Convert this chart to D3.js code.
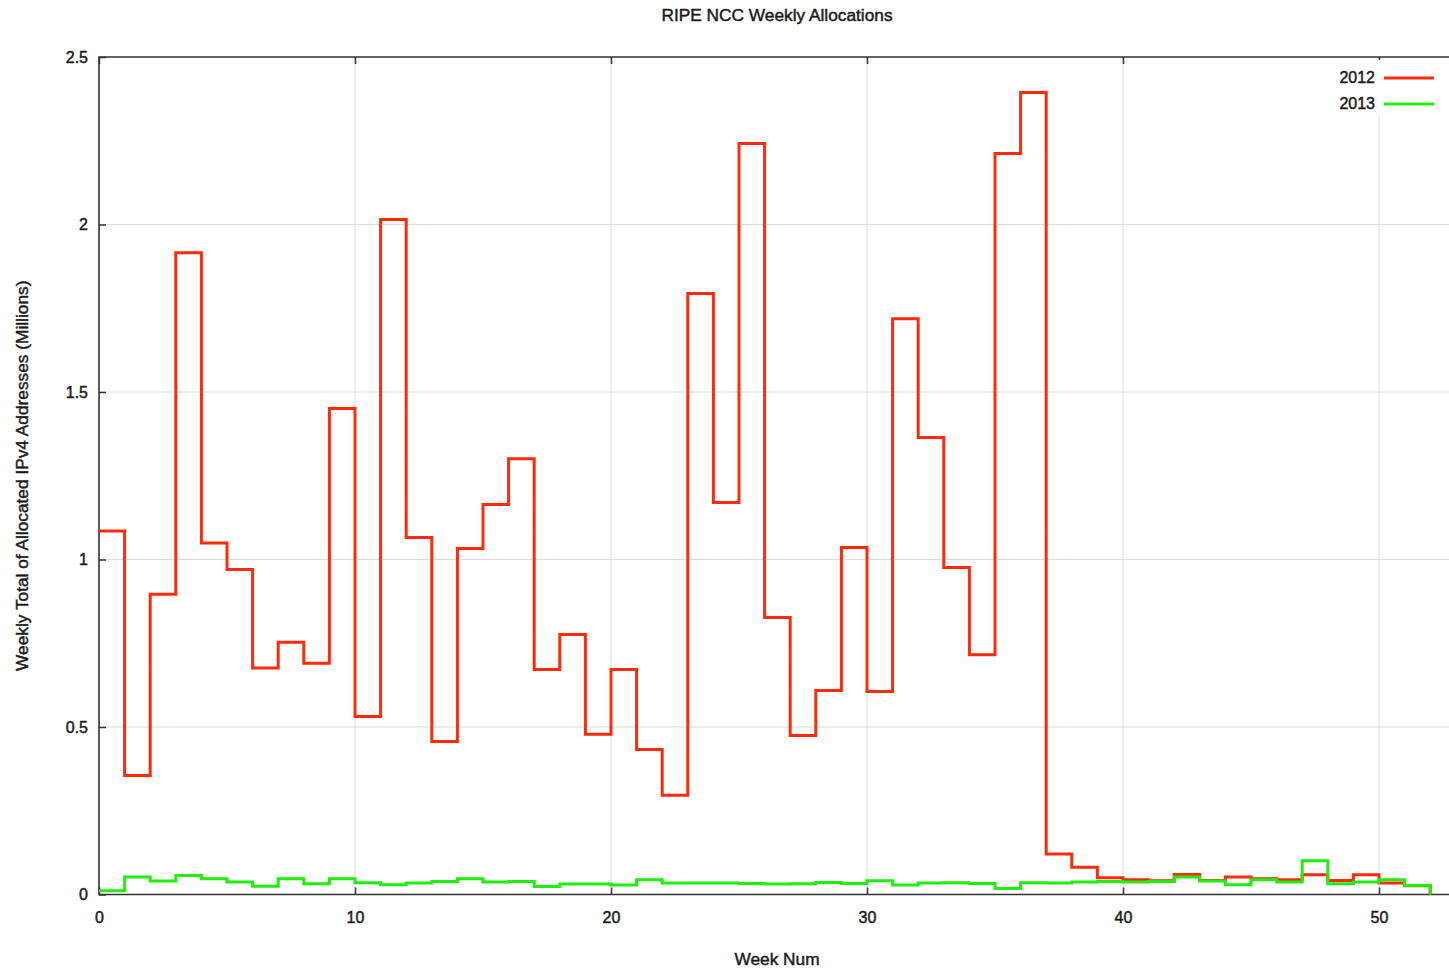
<!DOCTYPE html>
<html>
<head>
<meta charset="utf-8">
<script src="https://cdn.jsdelivr.net/npm/d3@7"></script>
<style>
  body { margin: 0; background: #fff; }
  svg { display: block; font-family: "Liberation Sans", Arial, Helvetica, sans-serif; }
  .tick-label { font-size: 16px; fill: #1a1a1a; stroke: #1a1a1a; stroke-width: 0.45px; }
  .title { font-size: 17.3px; fill: #1a1a1a; stroke: #1a1a1a; stroke-width: 0.45px; }
</style>
</head>
<body>
<div id="chart"></div>
<script>
// Week numbers 0..52
const weeks = d3.range(0, 53);

// Weekly allocated IPv4 addresses (millions)
const alloc2012 = [
  1.085, 0.355, 0.896, 1.916, 1.049, 0.970, 0.676, 0.753, 0.690, 1.451,
  0.531, 2.015, 1.066, 0.457, 1.033, 1.164, 1.301, 0.672, 0.776, 0.478,
  0.672, 0.433, 0.296, 1.794, 1.170, 2.242, 0.827, 0.475, 0.609, 1.036,
  0.606, 1.719, 1.364, 0.976, 0.716, 2.212, 2.394, 0.121, 0.081, 0.050,
  0.044, 0.041, 0.060, 0.042, 0.052, 0.047, 0.044, 0.059, 0.042, 0.059,
  0.034, 0.026, 0.0
];
const alloc2013 = [
  0.011, 0.052, 0.040, 0.057, 0.047, 0.037, 0.025, 0.047, 0.032, 0.047,
  0.035, 0.029, 0.034, 0.039, 0.047, 0.037, 0.039, 0.024, 0.031, 0.031,
  0.028, 0.044, 0.034, 0.034, 0.034, 0.033, 0.031, 0.032, 0.036, 0.033,
  0.041, 0.028, 0.034, 0.035, 0.033, 0.018, 0.035, 0.034, 0.037, 0.039,
  0.037, 0.039, 0.052, 0.040, 0.029, 0.044, 0.037, 0.101, 0.032, 0.037,
  0.044, 0.027, 0.0
];

const seriesNames = ["2012", "2013"];
const xTicks = [0, 10, 20, 30, 40, 50];
const yTicks = [0, 0.5, 1, 1.5, 2, 2.5];

const width = 1449;
const height = 970;
const margin = { top: 57, bottom: 75.5, left: 99 };

// x axis runs to week 53, past the right edge of the window
const x = d3.scaleLinear()
  .domain([0, 53])
  .range([margin.left, margin.left + 53 * 25.6]);
const y = d3.scaleLinear()
  .domain([0, 2.5])
  .range([height - margin.bottom, margin.top]);

const color = d3.scaleOrdinal().domain(seriesNames).range(["#ff2a0a", "#1eef0c"]);

const svg = d3.select("#chart")
  .append("svg")
  .attr("width", width)
  .attr("height", height);

// grid
const gGrid = svg.append("g").attr("class", "grid");
gGrid.selectAll(".vgrid")
  .data(xTicks.filter((d) => d > 0))
  .join("line")
  .attr("x1", (d) => x(d)).attr("x2", (d) => x(d))
  .attr("y1", y(0)).attr("y2", y(2.5))
  .attr("stroke", "#dcdcdc").attr("stroke-width", 1);
gGrid.selectAll(".hgrid")
  .data(yTicks.filter((d) => d > 0 && d < 2.5))
  .join("line")
  .attr("x1", x(0)).attr("x2", width)
  .attr("y1", (d) => y(d)).attr("y2", (d) => y(d))
  .attr("stroke", "#dcdcdc").attr("stroke-width", 1);

// axes (gnuplot style: inward ticks, mirrored on top)
svg.append("g")
  .attr("transform", `translate(0,${y(0)})`)
  .call(d3.axisBottom(x).tickValues(xTicks).tickSizeInner(-7).tickSizeOuter(0).tickPadding(17))
  .call((g) => g.select(".domain").remove());
svg.append("g")
  .attr("transform", `translate(0,${y(2.5)})`)
  .call(d3.axisTop(x).tickValues(xTicks).tickSizeInner(-7).tickSizeOuter(0).tickFormat(""))
  .call((g) => g.select(".domain").remove());
svg.append("g")
  .attr("transform", `translate(${x(0)},0)`)
  .call(d3.axisLeft(y).tickValues(yTicks).tickSizeInner(-7).tickSizeOuter(0).tickPadding(11).tickFormat(d3.format("")))
  .call((g) => g.select(".domain").remove());

svg.selectAll(".tick line").attr("stroke", "#333").attr("stroke-width", 1.5);
svg.selectAll(".tick text").attr("class", "tick-label").attr("font-size", null).attr("font-family", null).attr("fill", null);

// frame
svg.append("path")
  .attr("fill", "none")
  .attr("stroke", "#333")
  .attr("stroke-width", 1.6)
  .attr("d", `M${width},${y(2.5)}H${x(0)}V${y(0)}H${width}`);

// lines
const line = d3.line()
  .x((d, i) => x(weeks[i]))
  .y((d) => y(d))
  .curve(d3.curveStepAfter);

svg.append("g").attr("class", "lines")
  .selectAll(".line")
  .data([alloc2012, alloc2013])
  .join("path")
  .attr("class", "line")
  .attr("fill", "none")
  .attr("stroke", (d, i) => color(seriesNames[i]))
  .attr("stroke-width", 3)
  .attr("d", (d) => line(d));

// legend
const gLegend = svg.append("g").attr("class", "legend");
gLegend.append("rect")
  .attr("x", 1325).attr("y", y(2.5) + 3)
  .attr("width", width - 1325).attr("height", 56)
  .attr("fill", "#fff");
const item = gLegend.selectAll(".item")
  .data(seriesNames)
  .join("g")
  .attr("class", "item")
  .attr("transform", (d, i) => `translate(0,${77 + i * 26})`);
item.append("text")
  .attr("class", "tick-label")
  .attr("x", 1375)
  .attr("dy", "0.35em")
  .attr("text-anchor", "end")
  .text((d) => d);
item.append("line")
  .attr("x1", 1384).attr("x2", 1434)
  .attr("y1", 1).attr("y2", 1)
  .attr("stroke", (d) => color(d))
  .attr("stroke-width", 3);

// titles
svg.append("text")
  .attr("class", "title")
  .attr("x", 777).attr("y", 21)
  .attr("text-anchor", "middle")
  .text("RIPE NCC Weekly Allocations");
svg.append("text")
  .attr("class", "title")
  .attr("x", 777).attr("y", 965)
  .attr("text-anchor", "middle")
  .text("Week Num");
svg.append("text")
  .attr("class", "title")
  .attr("transform", `translate(28,${(y(0) + y(2.5)) / 2}) rotate(-90)`)
  .attr("text-anchor", "middle")
  .text("Weekly Total of Allocated IPv4 Addresses (Millions)");
</script>
</body>
</html>
